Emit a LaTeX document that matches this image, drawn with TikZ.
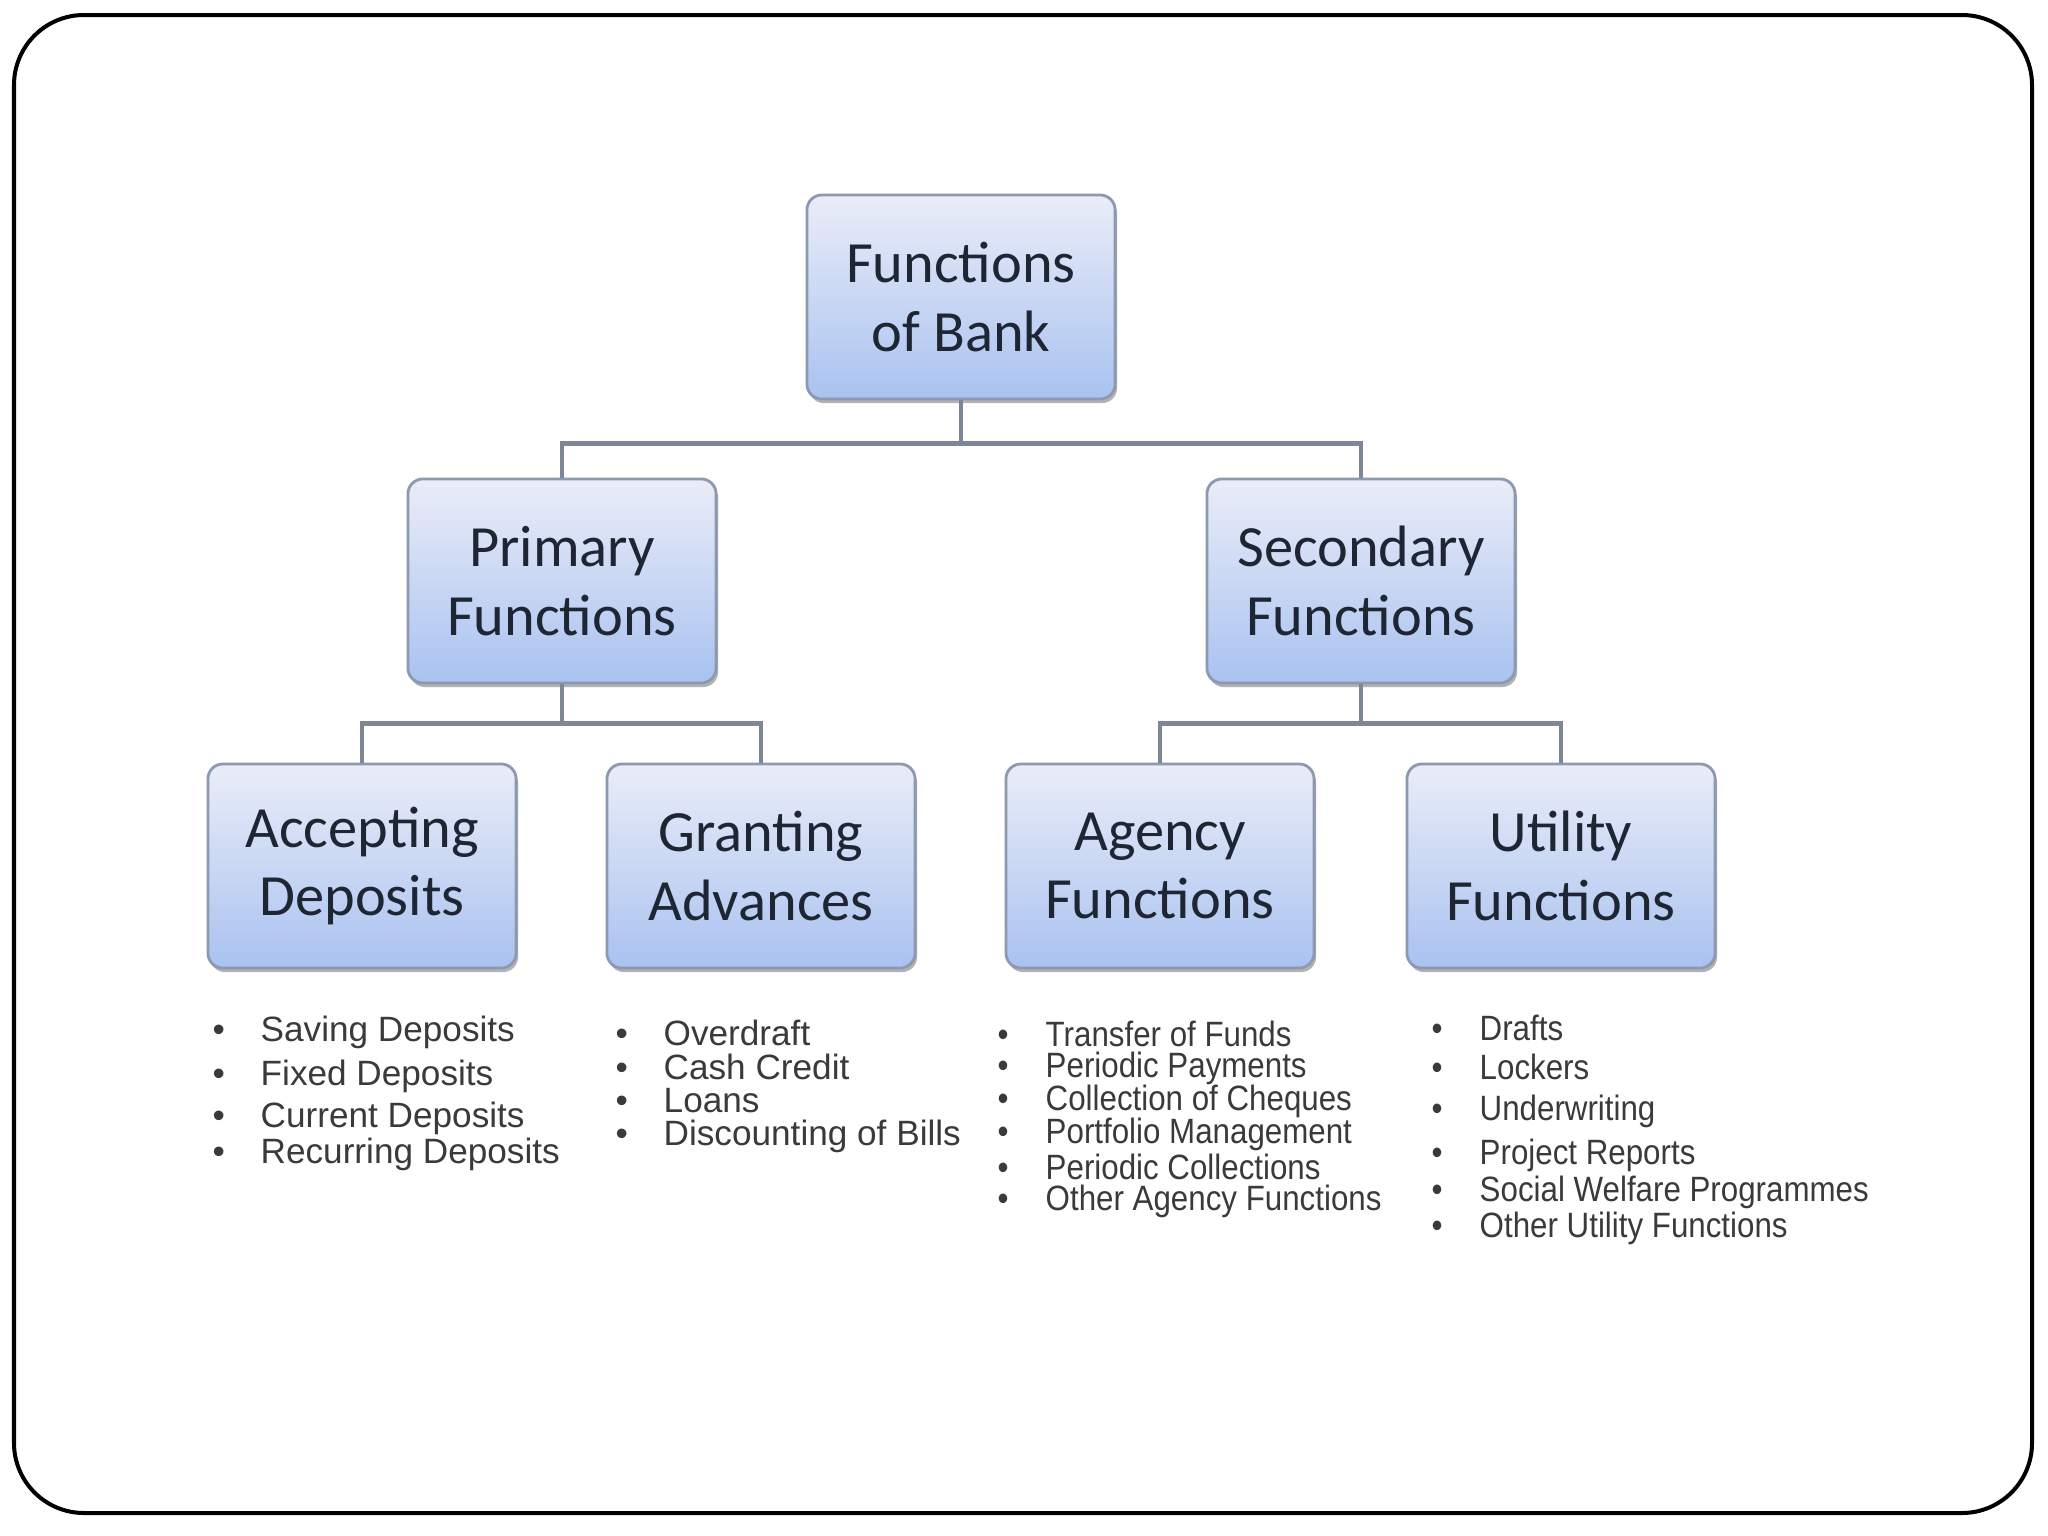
\documentclass[tikz,border=0pt]{standalone}
\usepackage{fontspec}
\setmainfont{Carlito}
\newfontfamily\listfont{Liberation Sans}
\newfontfamily\narrowfont[FakeStretch=0.89]{Liberation Sans}
\usetikzlibrary{shadows}
\definecolor{boxtop}{HTML}{EAEDF8}
\definecolor{boxbottom}{HTML}{A9C2F0}
\definecolor{boxline}{HTML}{8C99B0}
\definecolor{linkgray}{HTML}{7D8796}
\definecolor{boxtext}{HTML}{1E2533}
\definecolor{listtext}{HTML}{3A3A3A}
\tikzset{
  fnbox/.style={draw=boxline, line width=0.8pt, rounded corners=0.15cm,
    top color=boxtop, bottom color=boxbottom, align=center,
    minimum width=3.08cm, minimum height=2.04cm, text=boxtext,
    font=\fontsize{16.6}{19.5}\selectfont,
    drop shadow={shadow xshift=0.02cm, shadow yshift=-0.04cm, opacity=0.3, fill=black}},
  link/.style={draw=linkgray, line width=1.2pt},
  item/.style={anchor=west, inner sep=0pt, text=listtext,
    font=\listfont\fontsize{10}{12}\selectfont},
  narrowitem/.style={item, font=\narrowfont\fontsize{10}{12}\selectfont}
}
\newcommand{\bl}{\makebox[0.48cm][l]{\textbullet}}
\begin{document}
\begin{tikzpicture}[x=0.01cm, y=-0.01cm]
  \useasboundingbox (0,0) rectangle (2048,1536);
  \draw[line width=0.04cm, rounded corners=0.7cm] (14,15) rectangle (2032,1513);

  \node[fnbox] (root) at (961,297) {Functions\\of Bank};
  \node[fnbox] (prim) at (562,581) {Primary\\Functions};
  \node[fnbox] (sec) at (1361,581) {Secondary\\Functions};
  \node[fnbox] (acc) at (362,866) {Accepting\\Deposits};
  \node[fnbox] (grant) at (761,866) {Granting\\Advances};
  \node[fnbox] (agency) at (1160,866) {Agency\\Functions};
  \node[fnbox] (util) at (1561,866) {Utility\\Functions};

  \draw[link] (root.south) -- ++(0,43) -| (prim.north);
  \draw[link] (root.south) -- ++(0,43) -| (sec.north);
  \draw[link] (prim.south) -- ++(0,39) -| (acc.north);
  \draw[link] (prim.south) -- ++(0,39) -| (grant.north);
  \draw[link] (sec.south) -- ++(0,39) -| (agency.north);
  \draw[link] (sec.south) -- ++(0,39) -| (util.north);

  % lists under the boxes
  \foreach \txt/\y [count=\i] in {Saving Deposits/1032, Fixed Deposits/1076,
      Current Deposits/1118, Recurring Deposits/1154}
    \node[item] (acc\i) at (212,\y) {\bl\txt};
  \foreach \txt/\y [count=\i] in {Overdraft/1033, Cash Credit/1067,
      Loans/1101, Discounting of Bills/1136}
    \node[item] (grant\i) at (615,\y) {\bl\txt};
  \foreach \txt/\y [count=\i] in {Transfer of Funds/1034, Periodic Payments/1068,
      Collection of Cheques/1101, Portfolio Management/1134,
      Periodic Collections/1167, Other Agency Functions/1201}
    \node[narrowitem] (agency\i) at (997,\y) {\bl\txt};
  \foreach \txt/\y [count=\i] in {Drafts/1028, Lockers/1067, Underwriting/1111,
      Project Reports/1155, Social Welfare Programmes/1192,
      Other Utility Functions/1228}
    \node[narrowitem] (util\i) at (1431,\y) {\bl\txt};
\end{tikzpicture}
\end{document}
